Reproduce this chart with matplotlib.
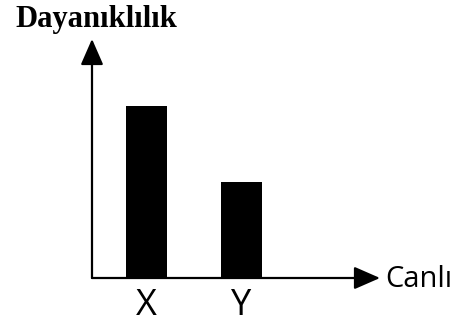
import matplotlib
matplotlib.use("Agg")
import matplotlib.pyplot as plt

# data (arbitrary units)
categories = ["X", "Y"]
durability = [7.2, 4.0]
y_top = 10.0

W, H = 470, 327
fig = plt.figure(figsize=(W / 100, H / 100), dpi=100)

# axes box in pixels: x 92..380, y 39..278 (from top)
ax_l, ax_r, ax_t, ax_b = 92, 380, 39, 278
ax = fig.add_axes([ax_l / W, 1 - ax_b / H, (ax_r - ax_l) / W, (ax_b - ax_t) / H])
ax.patch.set_alpha(0)

x = range(len(categories))
ax.bar(x, durability, width=0.43, color="black")
ax.set_xlim(-0.574, 2.458)
ax.set_ylim(0, y_top)

for s in ax.spines.values():
    s.set_visible(False)
ax.set_yticks([])
ax.set_xticks(list(x))
ax.set_xticklabels(categories, fontfamily="Open Sans", fontsize=26)
ax.tick_params(axis="x", length=0, pad=7)

arrow = dict(arrowstyle="-|>,head_length=16,head_width=7", mutation_scale=1,
             lw=1.6, color="black", shrinkA=0, shrinkB=0)
ax.annotate("", xy=(0, 1), xytext=(0, 0), xycoords="axes fraction",
            textcoords="axes fraction", arrowprops=arrow)
ax.annotate("", xy=(1, 0), xytext=(0, 0), xycoords="axes fraction",
            textcoords="axes fraction", arrowprops=arrow)

fig.text(15 / W, 1 - 27 / H, "Dayanıklılık", fontfamily="Liberation Serif",
         fontweight="bold", fontsize=22, va="baseline", ha="left")
fig.text(385 / W, 1 - 287 / H, "Canlı", fontfamily="Open Sans",
         fontsize=21, va="baseline", ha="left")

fig.savefig("out.png", dpi=100)
